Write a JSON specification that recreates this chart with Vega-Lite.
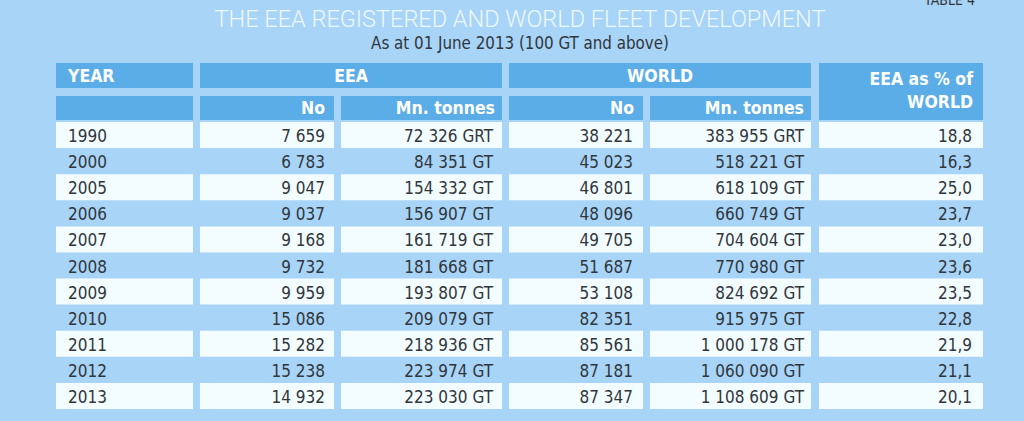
{
  "$schema": "https://vega.github.io/schema/vega-lite/v6.json",
  "width": 1024,
  "height": 421,
  "padding": 0,
  "autosize": "none",
  "background": "#a8d4f7",
  "config": {"view": {"stroke": null}},
  "data": {"values": [
    {"Year": "1990", "EEA_No": "7 659", "EEA_Mn": "72 326 GRT", "World_No": "38 221", "World_Mn": "383 955 GRT", "EEA_pct": "18,8"},
    {"Year": "2000", "EEA_No": "6 783", "EEA_Mn": "84 351 GT", "World_No": "45 023", "World_Mn": "518 221 GT", "EEA_pct": "16,3"},
    {"Year": "2005", "EEA_No": "9 047", "EEA_Mn": "154 332 GT", "World_No": "46 801", "World_Mn": "618 109 GT", "EEA_pct": "25,0"},
    {"Year": "2006", "EEA_No": "9 037", "EEA_Mn": "156 907 GT", "World_No": "48 096", "World_Mn": "660 749 GT", "EEA_pct": "23,7"},
    {"Year": "2007", "EEA_No": "9 168", "EEA_Mn": "161 719 GT", "World_No": "49 705", "World_Mn": "704 604 GT", "EEA_pct": "23,0"},
    {"Year": "2008", "EEA_No": "9 732", "EEA_Mn": "181 668 GT", "World_No": "51 687", "World_Mn": "770 980 GT", "EEA_pct": "23,6"},
    {"Year": "2009", "EEA_No": "9 959", "EEA_Mn": "193 807 GT", "World_No": "53 108", "World_Mn": "824 692 GT", "EEA_pct": "23,5"},
    {"Year": "2010", "EEA_No": "15 086", "EEA_Mn": "209 079 GT", "World_No": "82 351", "World_Mn": "915 975 GT", "EEA_pct": "22,8"},
    {"Year": "2011", "EEA_No": "15 282", "EEA_Mn": "218 936 GT", "World_No": "85 561", "World_Mn": "1 000 178 GT", "EEA_pct": "21,9"},
    {"Year": "2012", "EEA_No": "15 238", "EEA_Mn": "223 974 GT", "World_No": "87 181", "World_Mn": "1 060 090 GT", "EEA_pct": "21,1"},
    {"Year": "2013", "EEA_No": "14 932", "EEA_Mn": "223 030 GT", "World_No": "87 347", "World_Mn": "1 108 609 GT", "EEA_pct": "20,1"}
  ]},
  "transform": [{"window": [{"op": "row_number", "as": "r"}]}],
  "layer": [
    {"data": {"values": [{}]}, "mark": {"type": "rect", "fill": "#5aade6"},
     "encoding": {
       "x": {"datum": 0, "type": "quantitative", "scale": {"domain": [0,1,2,3,4,5,6,7,8,9,10,11], "range": [56,193,200,334,341,502,509,643,650,811,819,983], "zero": false, "nice": false}, "axis": null},
       "x2": {"datum": 1},
       "y": {"datum": -3, "type": "quantitative", "scale": {"domain": [-6,-5,-4,-3,-2,-1,0,0.5,11.5], "range": [0,20,44,63,88,96,120,122,409], "zero": false, "nice": false}, "axis": null},
       "y2": {"datum": -2}}},
    {"data": {"values": [{}]}, "mark": {"type": "rect", "fill": "#5aade6"},
     "encoding": {
       "x": {"datum": 0, "type": "quantitative", "scale": {"domain": [0,1,2,3,4,5,6,7,8,9,10,11], "range": [56,193,200,334,341,502,509,643,650,811,819,983], "zero": false, "nice": false}, "axis": null},
       "x2": {"datum": 1},
       "y": {"datum": -1, "type": "quantitative", "scale": {"domain": [-6,-5,-4,-3,-2,-1,0,0.5,11.5], "range": [0,20,44,63,88,96,120,122,409], "zero": false, "nice": false}, "axis": null},
       "y2": {"datum": 0}}},
    {"data": {"values": [{}]}, "mark": {"type": "rect", "fill": "#5aade6"},
     "encoding": {
       "x": {"datum": 2, "type": "quantitative", "scale": {"domain": [0,1,2,3,4,5,6,7,8,9,10,11], "range": [56,193,200,334,341,502,509,643,650,811,819,983], "zero": false, "nice": false}, "axis": null},
       "x2": {"datum": 5},
       "y": {"datum": -3, "type": "quantitative", "scale": {"domain": [-6,-5,-4,-3,-2,-1,0,0.5,11.5], "range": [0,20,44,63,88,96,120,122,409], "zero": false, "nice": false}, "axis": null},
       "y2": {"datum": -2}}},
    {"data": {"values": [{}]}, "mark": {"type": "rect", "fill": "#5aade6"},
     "encoding": {
       "x": {"datum": 2, "type": "quantitative", "scale": {"domain": [0,1,2,3,4,5,6,7,8,9,10,11], "range": [56,193,200,334,341,502,509,643,650,811,819,983], "zero": false, "nice": false}, "axis": null},
       "x2": {"datum": 3},
       "y": {"datum": -1, "type": "quantitative", "scale": {"domain": [-6,-5,-4,-3,-2,-1,0,0.5,11.5], "range": [0,20,44,63,88,96,120,122,409], "zero": false, "nice": false}, "axis": null},
       "y2": {"datum": 0}}},
    {"data": {"values": [{}]}, "mark": {"type": "rect", "fill": "#5aade6"},
     "encoding": {
       "x": {"datum": 4, "type": "quantitative", "scale": {"domain": [0,1,2,3,4,5,6,7,8,9,10,11], "range": [56,193,200,334,341,502,509,643,650,811,819,983], "zero": false, "nice": false}, "axis": null},
       "x2": {"datum": 5},
       "y": {"datum": -1, "type": "quantitative", "scale": {"domain": [-6,-5,-4,-3,-2,-1,0,0.5,11.5], "range": [0,20,44,63,88,96,120,122,409], "zero": false, "nice": false}, "axis": null},
       "y2": {"datum": 0}}},
    {"data": {"values": [{}]}, "mark": {"type": "rect", "fill": "#5aade6"},
     "encoding": {
       "x": {"datum": 6, "type": "quantitative", "scale": {"domain": [0,1,2,3,4,5,6,7,8,9,10,11], "range": [56,193,200,334,341,502,509,643,650,811,819,983], "zero": false, "nice": false}, "axis": null},
       "x2": {"datum": 9},
       "y": {"datum": -3, "type": "quantitative", "scale": {"domain": [-6,-5,-4,-3,-2,-1,0,0.5,11.5], "range": [0,20,44,63,88,96,120,122,409], "zero": false, "nice": false}, "axis": null},
       "y2": {"datum": -2}}},
    {"data": {"values": [{}]}, "mark": {"type": "rect", "fill": "#5aade6"},
     "encoding": {
       "x": {"datum": 6, "type": "quantitative", "scale": {"domain": [0,1,2,3,4,5,6,7,8,9,10,11], "range": [56,193,200,334,341,502,509,643,650,811,819,983], "zero": false, "nice": false}, "axis": null},
       "x2": {"datum": 7},
       "y": {"datum": -1, "type": "quantitative", "scale": {"domain": [-6,-5,-4,-3,-2,-1,0,0.5,11.5], "range": [0,20,44,63,88,96,120,122,409], "zero": false, "nice": false}, "axis": null},
       "y2": {"datum": 0}}},
    {"data": {"values": [{}]}, "mark": {"type": "rect", "fill": "#5aade6"},
     "encoding": {
       "x": {"datum": 8, "type": "quantitative", "scale": {"domain": [0,1,2,3,4,5,6,7,8,9,10,11], "range": [56,193,200,334,341,502,509,643,650,811,819,983], "zero": false, "nice": false}, "axis": null},
       "x2": {"datum": 9},
       "y": {"datum": -1, "type": "quantitative", "scale": {"domain": [-6,-5,-4,-3,-2,-1,0,0.5,11.5], "range": [0,20,44,63,88,96,120,122,409], "zero": false, "nice": false}, "axis": null},
       "y2": {"datum": 0}}},
    {"data": {"values": [{}]}, "mark": {"type": "rect", "fill": "#5aade6"},
     "encoding": {
       "x": {"datum": 10, "type": "quantitative", "scale": {"domain": [0,1,2,3,4,5,6,7,8,9,10,11], "range": [56,193,200,334,341,502,509,643,650,811,819,983], "zero": false, "nice": false}, "axis": null},
       "x2": {"datum": 11},
       "y": {"datum": -3, "type": "quantitative", "scale": {"domain": [-6,-5,-4,-3,-2,-1,0,0.5,11.5], "range": [0,20,44,63,88,96,120,122,409], "zero": false, "nice": false}, "axis": null},
       "y2": {"datum": 0}}},

    {"transform": [{"filter": "datum.r % 2 == 1"}], "mark": {"type": "rect", "fill": "#f3fcff", "height": 26},
     "encoding": {
       "x": {"datum": 0, "type": "quantitative", "scale": {"domain": [0,1,2,3,4,5,6,7,8,9,10,11], "range": [56,193,200,334,341,502,509,643,650,811,819,983], "zero": false, "nice": false}, "axis": null},
       "x2": {"datum": 1},
       "y": {"field": "r", "type": "quantitative", "scale": {"domain": [-6,-5,-4,-3,-2,-1,0,0.5,11.5], "range": [0,20,44,63,88,96,120,122,409], "zero": false, "nice": false}, "axis": null}}},
    {"transform": [{"filter": "datum.r % 2 == 1"}], "mark": {"type": "rect", "fill": "#f3fcff", "height": 26},
     "encoding": {
       "x": {"datum": 2, "type": "quantitative", "scale": {"domain": [0,1,2,3,4,5,6,7,8,9,10,11], "range": [56,193,200,334,341,502,509,643,650,811,819,983], "zero": false, "nice": false}, "axis": null},
       "x2": {"datum": 3},
       "y": {"field": "r", "type": "quantitative", "scale": {"domain": [-6,-5,-4,-3,-2,-1,0,0.5,11.5], "range": [0,20,44,63,88,96,120,122,409], "zero": false, "nice": false}, "axis": null}}},
    {"transform": [{"filter": "datum.r % 2 == 1"}], "mark": {"type": "rect", "fill": "#f3fcff", "height": 26},
     "encoding": {
       "x": {"datum": 4, "type": "quantitative", "scale": {"domain": [0,1,2,3,4,5,6,7,8,9,10,11], "range": [56,193,200,334,341,502,509,643,650,811,819,983], "zero": false, "nice": false}, "axis": null},
       "x2": {"datum": 5},
       "y": {"field": "r", "type": "quantitative", "scale": {"domain": [-6,-5,-4,-3,-2,-1,0,0.5,11.5], "range": [0,20,44,63,88,96,120,122,409], "zero": false, "nice": false}, "axis": null}}},
    {"transform": [{"filter": "datum.r % 2 == 1"}], "mark": {"type": "rect", "fill": "#f3fcff", "height": 26},
     "encoding": {
       "x": {"datum": 6, "type": "quantitative", "scale": {"domain": [0,1,2,3,4,5,6,7,8,9,10,11], "range": [56,193,200,334,341,502,509,643,650,811,819,983], "zero": false, "nice": false}, "axis": null},
       "x2": {"datum": 7},
       "y": {"field": "r", "type": "quantitative", "scale": {"domain": [-6,-5,-4,-3,-2,-1,0,0.5,11.5], "range": [0,20,44,63,88,96,120,122,409], "zero": false, "nice": false}, "axis": null}}},
    {"transform": [{"filter": "datum.r % 2 == 1"}], "mark": {"type": "rect", "fill": "#f3fcff", "height": 26},
     "encoding": {
       "x": {"datum": 8, "type": "quantitative", "scale": {"domain": [0,1,2,3,4,5,6,7,8,9,10,11], "range": [56,193,200,334,341,502,509,643,650,811,819,983], "zero": false, "nice": false}, "axis": null},
       "x2": {"datum": 9},
       "y": {"field": "r", "type": "quantitative", "scale": {"domain": [-6,-5,-4,-3,-2,-1,0,0.5,11.5], "range": [0,20,44,63,88,96,120,122,409], "zero": false, "nice": false}, "axis": null}}},
    {"transform": [{"filter": "datum.r % 2 == 1"}], "mark": {"type": "rect", "fill": "#f3fcff", "height": 26},
     "encoding": {
       "x": {"datum": 10, "type": "quantitative", "scale": {"domain": [0,1,2,3,4,5,6,7,8,9,10,11], "range": [56,193,200,334,341,502,509,643,650,811,819,983], "zero": false, "nice": false}, "axis": null},
       "x2": {"datum": 11},
       "y": {"field": "r", "type": "quantitative", "scale": {"domain": [-6,-5,-4,-3,-2,-1,0,0.5,11.5], "range": [0,20,44,63,88,96,120,122,409], "zero": false, "nice": false}, "axis": null}}},

    {"mark": {"type": "text", "align": "left", "baseline": "middle", "dx": 12, "dy": 2, "font": "DejaVu Sans Condensed, sans-serif", "fontSize": 17, "fill": "#30363b"},
     "encoding": {
       "x": {"datum": 0, "type": "quantitative", "scale": {"domain": [0,1,2,3,4,5,6,7,8,9,10,11], "range": [56,193,200,334,341,502,509,643,650,811,819,983], "zero": false, "nice": false}, "axis": null},
       "y": {"field": "r", "type": "quantitative", "scale": {"domain": [-6,-5,-4,-3,-2,-1,0,0.5,11.5], "range": [0,20,44,63,88,96,120,122,409], "zero": false, "nice": false}, "axis": null},
       "text": {"field": "Year"}}},
    {"mark": {"type": "text", "align": "right", "baseline": "middle", "dx": -9, "dy": 2, "font": "DejaVu Sans Condensed, sans-serif", "fontSize": 17, "fill": "#30363b"},
     "encoding": {
       "x": {"datum": 3, "type": "quantitative", "scale": {"domain": [0,1,2,3,4,5,6,7,8,9,10,11], "range": [56,193,200,334,341,502,509,643,650,811,819,983], "zero": false, "nice": false}, "axis": null},
       "y": {"field": "r", "type": "quantitative", "scale": {"domain": [-6,-5,-4,-3,-2,-1,0,0.5,11.5], "range": [0,20,44,63,88,96,120,122,409], "zero": false, "nice": false}, "axis": null},
       "text": {"field": "EEA_No"}}},
    {"mark": {"type": "text", "align": "right", "baseline": "middle", "dx": -9, "dy": 2, "font": "DejaVu Sans Condensed, sans-serif", "fontSize": 17, "fill": "#30363b"},
     "encoding": {
       "x": {"datum": 5, "type": "quantitative", "scale": {"domain": [0,1,2,3,4,5,6,7,8,9,10,11], "range": [56,193,200,334,341,502,509,643,650,811,819,983], "zero": false, "nice": false}, "axis": null},
       "y": {"field": "r", "type": "quantitative", "scale": {"domain": [-6,-5,-4,-3,-2,-1,0,0.5,11.5], "range": [0,20,44,63,88,96,120,122,409], "zero": false, "nice": false}, "axis": null},
       "text": {"field": "EEA_Mn"}}},
    {"mark": {"type": "text", "align": "right", "baseline": "middle", "dx": -10, "dy": 2, "font": "DejaVu Sans Condensed, sans-serif", "fontSize": 17, "fill": "#30363b"},
     "encoding": {
       "x": {"datum": 7, "type": "quantitative", "scale": {"domain": [0,1,2,3,4,5,6,7,8,9,10,11], "range": [56,193,200,334,341,502,509,643,650,811,819,983], "zero": false, "nice": false}, "axis": null},
       "y": {"field": "r", "type": "quantitative", "scale": {"domain": [-6,-5,-4,-3,-2,-1,0,0.5,11.5], "range": [0,20,44,63,88,96,120,122,409], "zero": false, "nice": false}, "axis": null},
       "text": {"field": "World_No"}}},
    {"mark": {"type": "text", "align": "right", "baseline": "middle", "dx": -7, "dy": 2, "font": "DejaVu Sans Condensed, sans-serif", "fontSize": 17, "fill": "#30363b"},
     "encoding": {
       "x": {"datum": 9, "type": "quantitative", "scale": {"domain": [0,1,2,3,4,5,6,7,8,9,10,11], "range": [56,193,200,334,341,502,509,643,650,811,819,983], "zero": false, "nice": false}, "axis": null},
       "y": {"field": "r", "type": "quantitative", "scale": {"domain": [-6,-5,-4,-3,-2,-1,0,0.5,11.5], "range": [0,20,44,63,88,96,120,122,409], "zero": false, "nice": false}, "axis": null},
       "text": {"field": "World_Mn"}}},
    {"mark": {"type": "text", "align": "right", "baseline": "middle", "dx": -11, "dy": 2, "font": "DejaVu Sans Condensed, sans-serif", "fontSize": 17, "fill": "#30363b"},
     "encoding": {
       "x": {"datum": 11, "type": "quantitative", "scale": {"domain": [0,1,2,3,4,5,6,7,8,9,10,11], "range": [56,193,200,334,341,502,509,643,650,811,819,983], "zero": false, "nice": false}, "axis": null},
       "y": {"field": "r", "type": "quantitative", "scale": {"domain": [-6,-5,-4,-3,-2,-1,0,0.5,11.5], "range": [0,20,44,63,88,96,120,122,409], "zero": false, "nice": false}, "axis": null},
       "text": {"field": "EEA_pct"}}},

    {"data": {"values": [{}]}, "mark": {"type": "text", "align": "left", "baseline": "middle", "dx": 12, "dy": 1, "font": "DejaVu Sans Condensed, sans-serif", "fontWeight": "bold", "fontSize": 17.5, "fill": "#ffffff", "text": "YEAR"},
     "encoding": {
       "x": {"datum": 0, "type": "quantitative", "scale": {"domain": [0,1,2,3,4,5,6,7,8,9,10,11], "range": [56,193,200,334,341,502,509,643,650,811,819,983], "zero": false, "nice": false}, "axis": null},
       "y": {"datum": -2.5, "type": "quantitative", "scale": {"domain": [-6,-5,-4,-3,-2,-1,0,0.5,11.5], "range": [0,20,44,63,88,96,120,122,409], "zero": false, "nice": false}, "axis": null}}},
    {"data": {"values": [{}]}, "mark": {"type": "text", "align": "center", "baseline": "middle", "dy": 1, "font": "DejaVu Sans Condensed, sans-serif", "fontWeight": "bold", "fontSize": 17.5, "fill": "#ffffff", "text": "EEA"},
     "encoding": {
       "x": {"datum": 4.062, "type": "quantitative", "scale": {"domain": [0,1,2,3,4,5,6,7,8,9,10,11], "range": [56,193,200,334,341,502,509,643,650,811,819,983], "zero": false, "nice": false}, "axis": null},
       "y": {"datum": -2.5, "type": "quantitative", "scale": {"domain": [-6,-5,-4,-3,-2,-1,0,0.5,11.5], "range": [0,20,44,63,88,96,120,122,409], "zero": false, "nice": false}, "axis": null}}},
    {"data": {"values": [{}]}, "mark": {"type": "text", "align": "center", "baseline": "middle", "dy": 1, "font": "DejaVu Sans Condensed, sans-serif", "fontWeight": "bold", "fontSize": 17.5, "fill": "#ffffff", "text": "WORLD"},
     "encoding": {
       "x": {"datum": 8.062, "type": "quantitative", "scale": {"domain": [0,1,2,3,4,5,6,7,8,9,10,11], "range": [56,193,200,334,341,502,509,643,650,811,819,983], "zero": false, "nice": false}, "axis": null},
       "y": {"datum": -2.5, "type": "quantitative", "scale": {"domain": [-6,-5,-4,-3,-2,-1,0,0.5,11.5], "range": [0,20,44,63,88,96,120,122,409], "zero": false, "nice": false}, "axis": null}}},
    {"data": {"values": [{}]}, "mark": {"type": "text", "align": "right", "baseline": "middle", "dx": -9, "dy": 1, "font": "DejaVu Sans Condensed, sans-serif", "fontWeight": "bold", "fontSize": 17.5, "fill": "#ffffff", "text": "No"},
     "encoding": {
       "x": {"datum": 3, "type": "quantitative", "scale": {"domain": [0,1,2,3,4,5,6,7,8,9,10,11], "range": [56,193,200,334,341,502,509,643,650,811,819,983], "zero": false, "nice": false}, "axis": null},
       "y": {"datum": -0.5, "type": "quantitative", "scale": {"domain": [-6,-5,-4,-3,-2,-1,0,0.5,11.5], "range": [0,20,44,63,88,96,120,122,409], "zero": false, "nice": false}, "axis": null}}},
    {"data": {"values": [{}]}, "mark": {"type": "text", "align": "right", "baseline": "middle", "dx": -7, "dy": 1, "font": "DejaVu Sans Condensed, sans-serif", "fontWeight": "bold", "fontSize": 17.5, "fill": "#ffffff", "text": "Mn. tonnes"},
     "encoding": {
       "x": {"datum": 5, "type": "quantitative", "scale": {"domain": [0,1,2,3,4,5,6,7,8,9,10,11], "range": [56,193,200,334,341,502,509,643,650,811,819,983], "zero": false, "nice": false}, "axis": null},
       "y": {"datum": -0.5, "type": "quantitative", "scale": {"domain": [-6,-5,-4,-3,-2,-1,0,0.5,11.5], "range": [0,20,44,63,88,96,120,122,409], "zero": false, "nice": false}, "axis": null}}},
    {"data": {"values": [{}]}, "mark": {"type": "text", "align": "right", "baseline": "middle", "dx": -9, "dy": 1, "font": "DejaVu Sans Condensed, sans-serif", "fontWeight": "bold", "fontSize": 17.5, "fill": "#ffffff", "text": "No"},
     "encoding": {
       "x": {"datum": 7, "type": "quantitative", "scale": {"domain": [0,1,2,3,4,5,6,7,8,9,10,11], "range": [56,193,200,334,341,502,509,643,650,811,819,983], "zero": false, "nice": false}, "axis": null},
       "y": {"datum": -0.5, "type": "quantitative", "scale": {"domain": [-6,-5,-4,-3,-2,-1,0,0.5,11.5], "range": [0,20,44,63,88,96,120,122,409], "zero": false, "nice": false}, "axis": null}}},
    {"data": {"values": [{}]}, "mark": {"type": "text", "align": "right", "baseline": "middle", "dx": -7, "dy": 1, "font": "DejaVu Sans Condensed, sans-serif", "fontWeight": "bold", "fontSize": 17.5, "fill": "#ffffff", "text": "Mn. tonnes"},
     "encoding": {
       "x": {"datum": 9, "type": "quantitative", "scale": {"domain": [0,1,2,3,4,5,6,7,8,9,10,11], "range": [56,193,200,334,341,502,509,643,650,811,819,983], "zero": false, "nice": false}, "axis": null},
       "y": {"datum": -0.5, "type": "quantitative", "scale": {"domain": [-6,-5,-4,-3,-2,-1,0,0.5,11.5], "range": [0,20,44,63,88,96,120,122,409], "zero": false, "nice": false}, "axis": null}}},
    {"data": {"values": [{}]}, "mark": {"type": "text", "align": "right", "baseline": "middle", "dx": -10, "dy": 1, "font": "DejaVu Sans Condensed, sans-serif", "fontWeight": "bold", "fontSize": 17.5, "fill": "#ffffff", "text": "EEA as % of"},
     "encoding": {
       "x": {"datum": 11, "type": "quantitative", "scale": {"domain": [0,1,2,3,4,5,6,7,8,9,10,11], "range": [56,193,200,334,341,502,509,643,650,811,819,983], "zero": false, "nice": false}, "axis": null},
       "y": {"datum": -2.36, "type": "quantitative", "scale": {"domain": [-6,-5,-4,-3,-2,-1,0,0.5,11.5], "range": [0,20,44,63,88,96,120,122,409], "zero": false, "nice": false}, "axis": null}}},
    {"data": {"values": [{}]}, "mark": {"type": "text", "align": "right", "baseline": "middle", "dx": -10, "dy": 1, "font": "DejaVu Sans Condensed, sans-serif", "fontWeight": "bold", "fontSize": 17.5, "fill": "#ffffff", "text": "WORLD"},
     "encoding": {
       "x": {"datum": 11, "type": "quantitative", "scale": {"domain": [0,1,2,3,4,5,6,7,8,9,10,11], "range": [56,193,200,334,341,502,509,643,650,811,819,983], "zero": false, "nice": false}, "axis": null},
       "y": {"datum": -0.75, "type": "quantitative", "scale": {"domain": [-6,-5,-4,-3,-2,-1,0,0.5,11.5], "range": [0,20,44,63,88,96,120,122,409], "zero": false, "nice": false}, "axis": null}}},

    {"data": {"values": [{}]}, "mark": {"type": "text", "align": "center", "baseline": "middle", "font": "Roboto, Liberation Sans, sans-serif", "fontWeight": 300, "fontSize": 23.5, "fill": "#eef8ff", "text": "THE EEA REGISTERED AND WORLD FLEET DEVELOPMENT"},
     "encoding": {
       "x": {"datum": 6.082, "type": "quantitative", "scale": {"domain": [0,1,2,3,4,5,6,7,8,9,10,11], "range": [56,193,200,334,341,502,509,643,650,811,819,983], "zero": false, "nice": false}, "axis": null},
       "y": {"datum": -5, "type": "quantitative", "scale": {"domain": [-6,-5,-4,-3,-2,-1,0,0.5,11.5], "range": [0,20,44,63,88,96,120,122,409], "zero": false, "nice": false}, "axis": null}}},
    {"data": {"values": [{}]}, "mark": {"type": "text", "align": "center", "baseline": "middle", "font": "DejaVu Sans Condensed, sans-serif", "fontSize": 16.8, "fill": "#30363b", "text": "As at 01 June 2013 (100 GT and above)"},
     "encoding": {
       "x": {"datum": 6.082, "type": "quantitative", "scale": {"domain": [0,1,2,3,4,5,6,7,8,9,10,11], "range": [56,193,200,334,341,502,509,643,650,811,819,983], "zero": false, "nice": false}, "axis": null},
       "y": {"datum": -4, "type": "quantitative", "scale": {"domain": [-6,-5,-4,-3,-2,-1,0,0.5,11.5], "range": [0,20,44,63,88,96,120,122,409], "zero": false, "nice": false}, "axis": null}}},
    {"data": {"values": [{}]}, "mark": {"type": "text", "align": "right", "baseline": "alphabetic", "dx": -8, "dy": 5, "font": "DejaVu Sans Condensed, sans-serif", "fontSize": 14, "fill": "#30363b", "text": "TABLE 4"},
     "encoding": {
       "x": {"datum": 11, "type": "quantitative", "scale": {"domain": [0,1,2,3,4,5,6,7,8,9,10,11], "range": [56,193,200,334,341,502,509,643,650,811,819,983], "zero": false, "nice": false}, "axis": null},
       "y": {"datum": -6, "type": "quantitative", "scale": {"domain": [-6,-5,-4,-3,-2,-1,0,0.5,11.5], "range": [0,20,44,63,88,96,120,122,409], "zero": false, "nice": false}, "axis": null}}}
  ]
}
